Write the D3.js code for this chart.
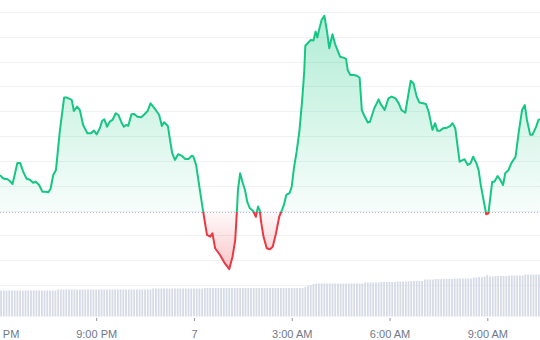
<!DOCTYPE html>
<html>
<head>
<meta charset="utf-8">
<script src="https://cdn.jsdelivr.net/npm/d3@7"></script>
<style>
  body { margin: 0; background: #fff; }
  svg { display: block; }
</style>
</head>
<body>
<script>
// price readings: minutes after 6:00 PM on the 6th, and price
var priceMinutes = [3, 8, 12, 16, 21, 26, 30, 35, 40, 46, 52, 58, 64, 69, 75, 81, 87, 92, 96, 101,
  106, 113, 121, 126, 135, 139, 145, 150, 156, 164, 170, 176, 181, 187, 191, 195, 200, 205, 210, 216,
  221, 226, 231, 235, 239, 245, 250, 256, 263, 269, 275, 280, 285, 291, 296, 301, 305, 312, 316, 320,
  325, 331, 338, 344, 350, 356, 359, 364, 370, 377, 384, 390, 394, 399, 408, 417, 425, 431, 436, 439,
  441, 445, 450, 454, 458, 463, 469, 474, 478, 481, 484, 488, 494, 500, 505, 511, 517, 522, 526, 530,
  536, 540, 544, 549, 554, 559, 563, 565, 571, 575, 580, 584, 587, 591, 595, 600, 605, 609, 615, 620,
  624, 629, 635, 640, 643, 648, 654, 660, 665, 669, 673, 680, 684, 692, 700, 703, 711, 718, 724, 731,
  737, 742, 749, 753, 759, 764, 770, 775, 782, 787, 792, 799, 804, 808, 813, 819, 826, 832, 836, 841,
  849, 858, 864, 869, 874, 880, 884, 888, 893, 898, 902, 905, 909, 913, 919, 924, 929, 933, 939, 944,
  952, 958, 964, 969, 973, 979, 983, 990, 994, 998];
var priceValues = [144.3, 143.1, 142.7, 142.7, 141.9, 140.7, 144.3, 149.2, 149.2, 145.5, 142.8, 142.4, 141.2, 141.6, 140.3, 137.6, 137.6, 137.4, 138.7, 144.3,
  146.3, 161.8, 175.5, 175.5, 174.6, 170.1, 171.9, 170.5, 164.5, 161.1, 161.1, 162.2, 160.7, 163.3, 166.2, 166.8, 163.8, 165.8, 166.5, 169.2,
  168.5, 165.8, 163.8, 164.5, 164.1, 168.8, 168.9, 167.8, 167.6, 168.8, 170.2, 173.2, 171.9, 170.1, 168.5, 164.1, 165.6, 164.1, 158.4, 153.1,
  150.4, 152.7, 152.0, 150.8, 150.8, 152.1, 151.7, 148.4, 139.6, 129.5, 120.2, 119.5, 120.8, 114.8, 112.1, 108.7, 106.4, 111.4, 118.1, 129.5,
  138.3, 145.0, 141.0, 138.3, 133.6, 130.9, 129.8, 127.5, 131.6, 130.2, 124.9, 119.5, 114.8, 114.4, 115.4, 120.8, 127.5, 130.2, 132.6, 136.3,
  137.0, 139.6, 147.0, 153.7, 161.8, 173.9, 186.0, 196.4, 197.8, 198.7, 198.5, 202.1, 199.7, 203.4, 206.8, 208.5, 202.1, 195.4, 201.0, 197.0,
  194.7, 192.0, 191.6, 191.1, 186.6, 184.6, 184.6, 184.3, 183.5, 170.5, 168.5, 165.5, 165.8, 171.2, 174.8, 173.2, 170.5, 175.2, 175.9, 175.2,
  173.2, 170.5, 169.4, 174.6, 182.3, 181.3, 175.9, 173.5, 173.2, 172.9, 169.8, 162.5, 165.2, 162.2, 162.2, 163.2, 163.4, 164.1, 165.2, 163.2,
  149.7, 150.7, 148.4, 149.0, 151.7, 149.0, 146.3, 140.3, 134.3, 128.5, 128.9, 134.3, 141.6, 141.6, 143.9, 142.3, 140.3, 145.0, 146.3, 149.0,
  151.7, 161.8, 170.5, 172.5, 166.5, 160.5, 160.5, 163.8, 166.5, 166.8];
var openPrice = 129.4;

// 5-minute volume bars, first one at 6:05 PM
var volumeValues = [520, 520, 520, 520, 520, 520, 520, 520, 520, 520,
  520, 520, 520, 520, 520, 520, 520, 520, 520, 520,
  520, 540, 540, 540, 540, 540, 540, 540, 540, 540,
  540, 540, 540, 540, 540, 540, 540, 540, 540, 540,
  540, 540, 540, 540, 540, 540, 540, 540, 540, 540,
  540, 540, 540, 540, 540, 540, 560, 560, 560, 560,
  560, 560, 560, 560, 560, 560, 560, 560, 560, 560,
  560, 560, 560, 560, 560, 570, 570, 570, 570, 570,
  570, 570, 570, 570, 570, 570, 570, 570, 570, 570,
  570, 570, 570, 570, 570, 570, 570, 570, 570, 570,
  570, 570, 570, 570, 570, 570, 570, 570, 570, 570,
  570, 570, 590, 610, 630, 650, 660, 660, 660, 660,
  660, 660, 660, 660, 660, 660, 660, 660, 660, 660,
  660, 660, 660, 660, 680, 680, 680, 680, 680, 680,
  690, 690, 690, 690, 690, 690, 700, 700, 700, 700,
  700, 710, 710, 710, 710, 710, 740, 740, 740, 740,
  750, 750, 750, 750, 750, 750, 750, 760, 760, 760,
  760, 760, 760, 760, 780, 780, 790, 790, 800, 830,
  800, 800, 810, 810, 810, 810, 810, 820, 820, 820,
  820, 820, 820, 840, 840, 840, 840, 840, 840];

var gridValues = [100, 110, 120, 130, 140, 150, 160, 170, 180, 190, 200, 210];
var tickMinutes = [0, 180, 360, 540, 720, 900];
var tickLabels = ["6:00 PM", "9:00 PM", "7", "3:00 AM", "6:00 AM", "9:00 AM"];
var domainMinutes = [3, 997];

var width = 540, height = 340;
var start = new Date(2024, 2, 6, 18, 0);
function at(m) { return d3.timeSecond.offset(start, Math.round(m * 60)); }

var green = "#16c784", red = "#ea3943";

var x = d3.scaleTime().domain(domainMinutes.map(at)).range([0, width]);
var y = d3.scaleLinear().domain([100, 210]).range([285, 12]);
var yVol = d3.scaleLinear().domain([0, 900]).range([316.5, 271.5]);

var prices = priceMinutes.map(function (m, i) { return { t: at(m), v: priceValues[i] }; });
var base = y(openPrice);

var svg = d3.select("body").append("svg")
  .attr("width", width)
  .attr("height", height)
  .style("font-family", "Inter, 'Noto Sans', sans-serif");

var defs = svg.append("defs");

var gGrad = defs.append("linearGradient").attr("id", "fill-up")
  .attr("gradientUnits", "userSpaceOnUse")
  .attr("x1", 0).attr("x2", 0).attr("y1", 12).attr("y2", base);
gGrad.append("stop").attr("offset", 0).attr("stop-color", green).attr("stop-opacity", 0.34);
gGrad.append("stop").attr("offset", 1).attr("stop-color", green).attr("stop-opacity", 0.03);

var rGrad = defs.append("linearGradient").attr("id", "fill-down")
  .attr("gradientUnits", "userSpaceOnUse")
  .attr("x1", 0).attr("x2", 0).attr("y1", base).attr("y2", 272);
rGrad.append("stop").attr("offset", 0).attr("stop-color", red).attr("stop-opacity", 0.03);
rGrad.append("stop").attr("offset", 1).attr("stop-color", red).attr("stop-opacity", 0.3);

defs.append("clipPath").attr("id", "clip-up")
  .append("rect").attr("x", 0).attr("y", 0).attr("width", width).attr("height", base);
defs.append("clipPath").attr("id", "clip-down")
  .append("rect").attr("x", 0).attr("y", base).attr("width", width).attr("height", height - base);

// grid
svg.append("g")
  .selectAll("line")
  .data(gridValues)
  .join("line")
  .attr("x1", 0).attr("x2", width)
  .attr("y1", function (d) { return Math.round(y(d)) + 0.5; })
  .attr("y2", function (d) { return Math.round(y(d)) + 0.5; })
  .attr("stroke", "#f0f1f4")
  .attr("stroke-width", 1);

// volume
svg.append("g")
  .selectAll("rect")
  .data(volumeValues)
  .join("rect")
  .attr("x", function (d, i) { return x(at(5 * (i + 1))) - 0.9; })
  .attr("width", 1.8)
  .attr("y", function (d) { return yVol(d); })
  .attr("height", function (d) { return yVol(0) - yVol(d); })
  .attr("fill", "#d6dbe6");

var area = d3.area()
  .x(function (d) { return x(d.t); })
  .y0(base)
  .y1(function (d) { return y(d.v); });

var line = d3.line()
  .x(function (d) { return x(d.t); })
  .y(function (d) { return y(d.v); });

svg.append("path").datum(prices)
  .attr("d", area).attr("fill", "url(#fill-up)").attr("clip-path", "url(#clip-up)");
svg.append("path").datum(prices)
  .attr("d", area).attr("fill", "url(#fill-down)").attr("clip-path", "url(#clip-down)");

// open price reference
svg.append("line")
  .attr("x1", 0).attr("x2", width)
  .attr("y1", Math.round(base) + 0.5).attr("y2", Math.round(base) + 0.5)
  .attr("stroke", "#b3b9c4")
  .attr("stroke-dasharray", "1,2");

[["url(#clip-up)", green], ["url(#clip-down)", red]].forEach(function (p) {
  svg.append("path").datum(prices)
    .attr("d", line)
    .attr("fill", "none")
    .attr("stroke", p[1])
    .attr("stroke-width", 2)
    .attr("stroke-linejoin", "round")
    .attr("clip-path", p[0]);
});

// time axis
var axis = d3.axisBottom(x)
  .tickValues(tickMinutes.map(at))
  .tickFormat(function (d, i) { return tickLabels[i]; })
  .tickSize(3)
  .tickPadding(9);

var gx = svg.append("g").attr("transform", "translate(0,318)").call(axis);
gx.select(".domain").remove();
gx.selectAll(".tick line").attr("stroke", "#8a93a3");
gx.selectAll(".tick text")
  .attr("fill", "#6f7888")
  .style("font-size", "11px");
</script>
</body>
</html>
